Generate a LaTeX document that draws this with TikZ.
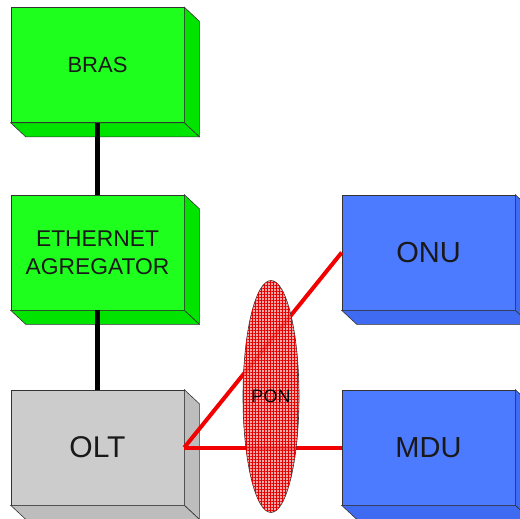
\documentclass[tikz,border=0pt]{standalone}
\usepackage{fontspec}
\setmainfont{Liberation Sans}
\usetikzlibrary{shapes.geometric,patterns.meta}
\definecolor{gfront}{HTML}{1EFF1E}
\definecolor{gside}{HTML}{00E400}
\definecolor{bfront}{HTML}{4D7BFF}
\definecolor{bside}{HTML}{3F6BF2}
\definecolor{gyfront}{HTML}{CCCCCC}
\definecolor{gyside}{HTML}{BDBDBD}
\definecolor{ponfill}{HTML}{F49494}
\newcommand\extrude[2]{%
  \filldraw[fill=#2,draw=black!80,line width=0.6pt] (#1.north east) -- ++(15,14) -- ([shift={(15,14)}]#1.south east) -- (#1.south east) -- cycle;
  \filldraw[fill=#2,draw=black!80,line width=0.6pt] (#1.south west) -- (#1.south east) -- ++(15,14) -- ([shift={(15,14)}]#1.south west) -- cycle;}
\tikzset{
  box/.style={rectangle,draw=black!80,line width=0.6pt,minimum width=173pt,minimum height=115pt,inner sep=0pt,align=center,text=black!90},
  blackline/.style={line width=4.5pt,black},
  redline/.style={line width=4pt,red!95!black},
  ponstyle/.style={ellipse,draw=black!80,line width=0.6pt,draw opacity=1,minimum width=56pt,minimum height=232pt,inner sep=0pt,
    fill=ponfill,fill opacity=0.8,
    postaction={pattern={Lines[angle=0,distance=3pt,line width=0.5pt]},pattern color=red!90!black},
    postaction={pattern={Lines[angle=90,distance=3pt,line width=0.5pt]},pattern color=red!90!black}},
}
\begin{document}
\begin{tikzpicture}[x=1pt,y=-1pt]
\useasboundingbox (0,0) rectangle (520,519);
\fill[white] (0,0) rectangle (520,519);
% boxes
\node[box,fill=gfront,font=\fontsize{22}{24}\selectfont] (bras) at (97.5,65) {BRAS};
\extrude{bras}{gside}
\node[box,fill=gfront,font=\fontsize{22.8}{28}\selectfont] (eth) at (97.5,252.5) {ETHERNET\\AGREGATOR};
\extrude{eth}{gside}
\node[box,fill=gyfront,font=\fontsize{30}{32}\selectfont] (olt) at (97.5,447.5) {OLT};
\extrude{olt}{gyside}
\node[box,fill=bfront,font=\fontsize{29}{32}\selectfont] (onu) at (428.5,252.5) {ONU};
\extrude{onu}{bside}
\node[box,fill=bfront,font=\fontsize{29}{32}\selectfont] (mdu) at (428.5,447.5) {MDU};
\extrude{mdu}{bside}
% connectors
\draw[blackline] (bras.south) -- (eth.north);
\draw[blackline] (eth.south) -- (olt.north);
\draw[redline] (olt.east) -- (onu.west);
\draw[redline] (olt.east) -- (mdu.west);
% PON ellipse
\node[ponstyle] (pon) at (271,396.5) {};
\node[font=\fontsize{18}{20}\selectfont,text=black] (ponlabel) at (pon.center) {PON};
\end{tikzpicture}
\end{document}
